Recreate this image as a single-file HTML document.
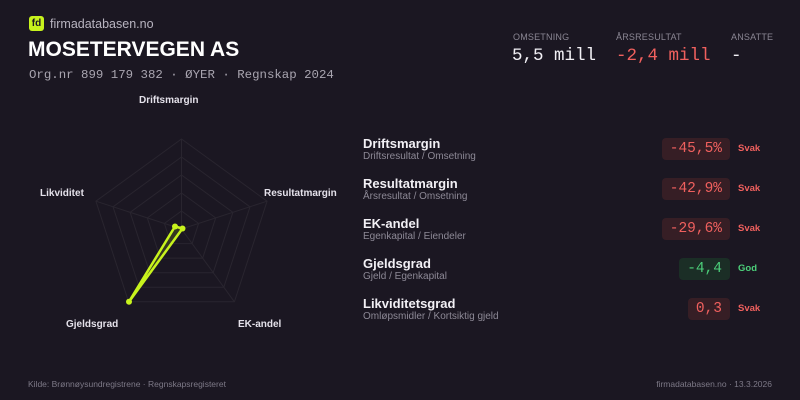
<!DOCTYPE html>
<html><head><meta charset="utf-8"><style>
*{margin:0;padding:0;box-sizing:border-box}
body{width:800px;height:400px;background:#1b1722;font-family:"Liberation Sans",sans-serif;color:#eee;position:relative;overflow:hidden}
.a{position:absolute;white-space:nowrap}
.mono{font-family:"Liberation Mono","DejaVu Sans Mono",monospace}
.lbl{font-size:9px;color:#8a8693;letter-spacing:.2px}
.nm{font-size:13px;font-weight:bold;color:#f2f0f5}
.sub{font-size:10px;color:#8d8996}
.badge{position:absolute;height:22px;border-radius:4px;font-family:"Liberation Mono",monospace;font-size:14.5px;line-height:22px;padding:0 8px;text-align:right}
.r{background:#361e25;color:#f0605e;right:70px}
.g{background:#1b2e26;color:#4ccf7a;right:70px}
.st{position:absolute;left:738px;font-size:9.5px;font-weight:bold}
.rl{font-size:10px;color:#e4e1ea;font-weight:bold}
</style></head><body>
<div class="a" style="left:29px;top:16px;width:15px;height:15px;background:#c8f31d;border-radius:3px;font-size:10px;font-weight:bold;color:#1b1722;text-align:center;line-height:15px">fd</div>
<div class="a" style="left:50px;top:17px;font-size:12.5px;color:#b8b4c0">firmadatabasen.no</div>
<div class="a" style="left:28px;top:38px;font-size:21px;font-weight:bold;color:#fff">MOSETERVEGEN AS</div>
<div class="a mono" style="left:29px;top:68px;font-size:12.4px;color:#a9a5b0">Org.nr 899 179 382 · ØYER · Regnskap 2024</div>

<div class="a lbl" style="left:513px;top:32px">OMSETNING</div>
<div class="a lbl" style="left:616px;top:32px">ÅRSRESULTAT</div>
<div class="a lbl" style="left:731px;top:32px">ANSATTE</div>
<div class="a mono" style="left:512px;top:46px;font-size:17.5px;color:#f2f0f5">5,5 mill</div>
<div class="a mono" style="left:616px;top:46px;font-size:17.5px;color:#f0605e">-2,4 mill</div>
<div class="a mono" style="left:731px;top:46px;font-size:17.5px;color:#f2f0f5">-</div>

<svg class="a" style="left:0;top:0" width="360" height="360">
<g fill="none" stroke="#29252f" stroke-width="1">
<polygon points="181.5,139 267.1,201.2 234.4,301.8 128.6,301.8 95.9,201.2"/>
<polygon points="181.5,157 250,206.8 223.8,287.3 139.2,287.3 113,206.8"/>
<polygon points="181.5,175 232.9,212.3 213.2,272.7 149.8,272.7 130.1,212.3"/>
<polygon points="181.5,193 215.7,217.9 202.7,258.1 160.3,258.1 147.3,217.9"/>
<polygon points="181.5,211 198.6,223.4 192.1,243.6 170.9,243.6 164.4,223.4"/>
<line x1="181.5" y1="229" x2="181.5" y2="139"/><line x1="181.5" y1="229" x2="267.1" y2="201.2"/><line x1="181.5" y1="229" x2="234.4" y2="301.8"/><line x1="181.5" y1="229" x2="128.6" y2="301.8"/><line x1="181.5" y1="229" x2="95.9" y2="201.2"/>
</g>
<polygon points="175,226.5 182.5,228.5 129,301.7" fill="rgba(200,243,29,0.15)" stroke="#c8f31d" stroke-width="2.5" stroke-linejoin="round"/>
<circle cx="175" cy="226.5" r="3" fill="#c8f31d"/><circle cx="182.5" cy="228.5" r="3" fill="#c8f31d"/><circle cx="129" cy="301.7" r="3" fill="#c8f31d"/>
</svg>
<div class="a rl" style="left:139px;top:95px">Driftsmargin</div>
<div class="a rl" style="left:264px;top:188px">Resultatmargin</div>
<div class="a rl" style="left:40px;top:188px">Likviditet</div>
<div class="a rl" style="left:66px;top:319px">Gjeldsgrad</div>
<div class="a rl" style="left:238px;top:319px">EK-andel</div>

<div class="a nm" style="left:363px;top:136px">Driftsmargin</div><div class="a sub" style="left:363px;top:151px">Driftsresultat / Omsetning</div>
<div class="badge r" style="top:138px">-45,5%</div><div class="st" style="top:143px;color:#f0605e">Svak</div>
<div class="a nm" style="left:363px;top:176px">Resultatmargin</div><div class="a sub" style="left:363px;top:191px">Årsresultat / Omsetning</div>
<div class="badge r" style="top:178px">-42,9%</div><div class="st" style="top:183px;color:#f0605e">Svak</div>
<div class="a nm" style="left:363px;top:216px">EK-andel</div><div class="a sub" style="left:363px;top:231px">Egenkapital / Eiendeler</div>
<div class="badge r" style="top:218px">-29,6%</div><div class="st" style="top:223px;color:#f0605e">Svak</div>
<div class="a nm" style="left:363px;top:256px">Gjeldsgrad</div><div class="a sub" style="left:363px;top:271px">Gjeld / Egenkapital</div>
<div class="badge g" style="top:258px">-4,4</div><div class="st" style="top:263px;color:#4ccf7a">God</div>
<div class="a nm" style="left:363px;top:296px">Likviditetsgrad</div><div class="a sub" style="left:363px;top:311px">Omløpsmidler / Kortsiktig gjeld</div>
<div class="badge r" style="top:298px">0,3</div><div class="st" style="top:303px;color:#f0605e">Svak</div>

<div class="a" style="left:28px;top:379px;font-size:8.5px;color:#7d7987">Kilde: Brønnøysundregistrene · Regnskapsregisteret</div>
<div class="a" style="right:28px;top:379px;font-size:8.5px;color:#7d7987">firmadatabasen.no · 13.3.2026</div>
</body></html>
